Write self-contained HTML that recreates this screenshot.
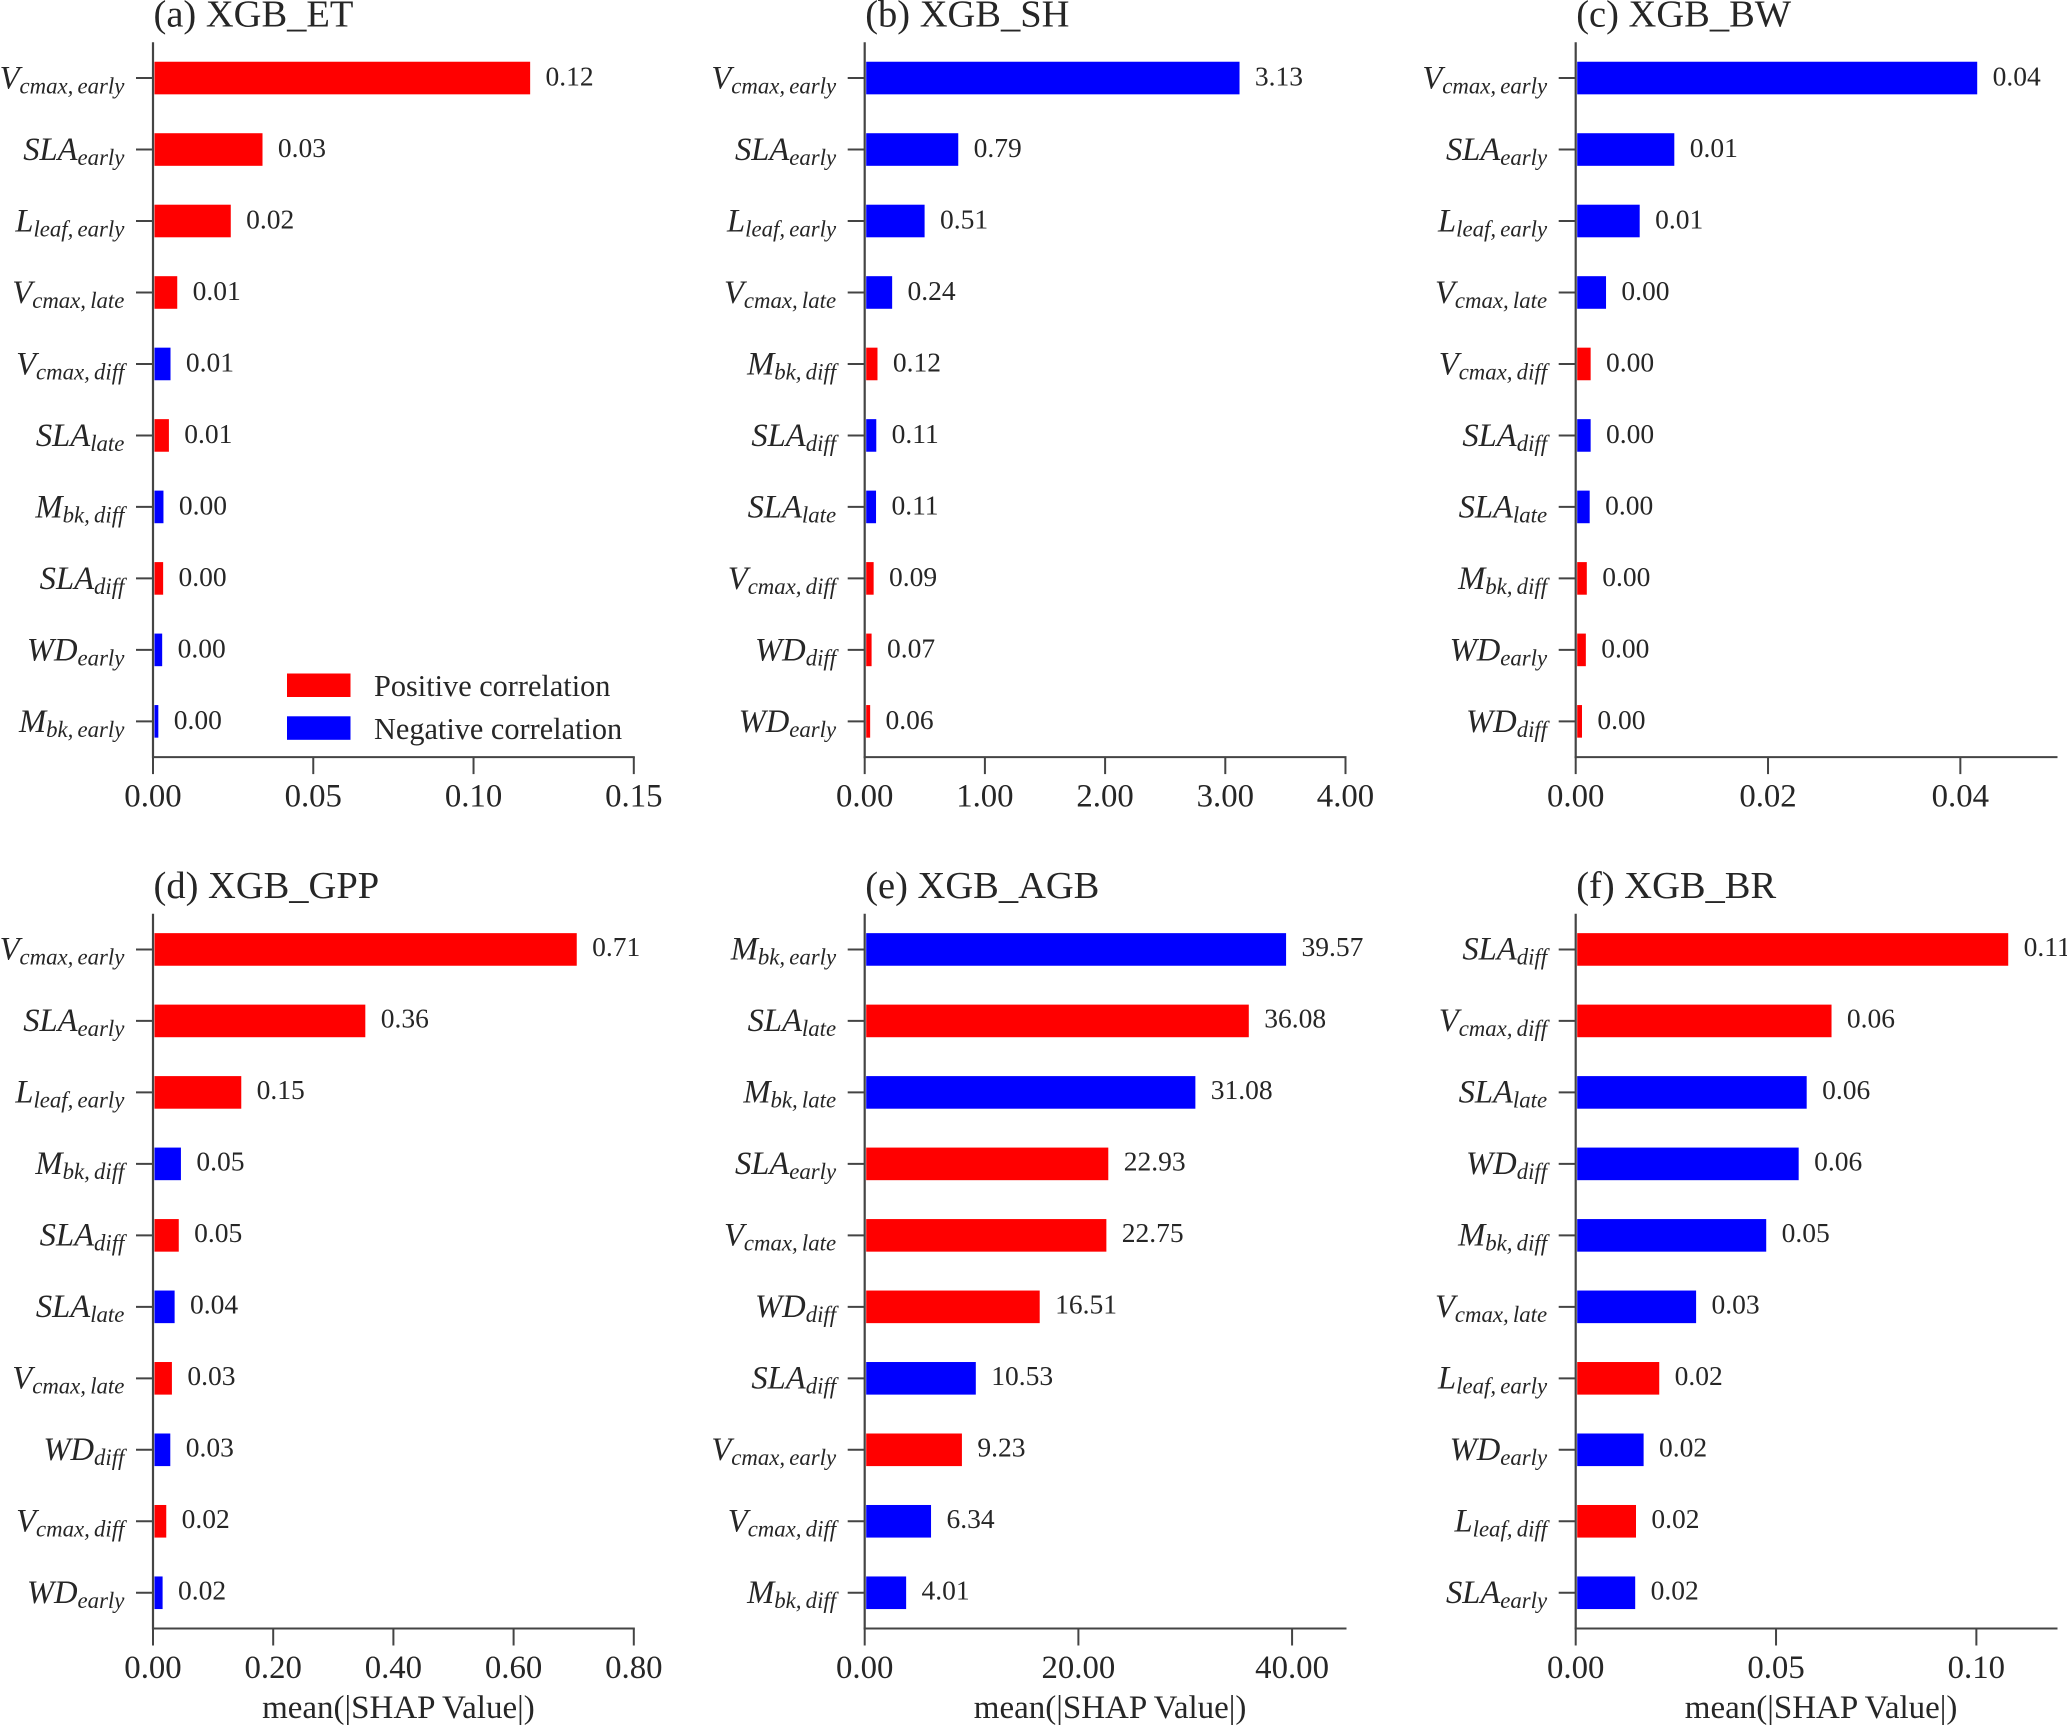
<!DOCTYPE html>
<html lang="en">
<head>
<meta charset="utf-8">
<title>Mean SHAP value bar charts</title>
<style>
html,body{margin:0;padding:0;background:#fff;width:2067px;height:1726px;overflow:hidden}
svg{display:block;font-family:"Liberation Serif",serif;fill:#262626}
</style>
</head>
<body>
<svg id="chart" xmlns="http://www.w3.org/2000/svg" width="2067" height="1726" viewBox="0 0 2067 1726"></svg>
<script>
// (a) XGB_ET
const etCategories = ["V|cmax, early","SLA|early","L|leaf, early","V|cmax, late","V|cmax, diff","SLA|late","M|bk, diff","SLA|diff","WD|early","M|bk, early"];
const etValues = [0.1181,0.0346,0.0247,0.0080,0.0059,0.0054,0.0037,0.0036,0.0033,0.0021];
const etSigns = ["pos","pos","pos","pos","neg","pos","neg","pos","neg","neg"];
const etTicks = [0,0.05,0.10,0.15];
const etMax = 0.15;
// (b) XGB_SH
const shCategories = ["V|cmax, early","SLA|early","L|leaf, early","V|cmax, late","M|bk, diff","SLA|diff","SLA|late","V|cmax, diff","WD|diff","WD|early"];
const shValues = [3.13,0.79,0.51,0.24,0.118,0.108,0.106,0.086,0.069,0.057];
const shSigns = ["neg","neg","neg","neg","pos","neg","neg","pos","pos","pos"];
const shTicks = [0,1,2,3,4];
const shMax = 4;
// (c) XGB_BW
const bwCategories = ["V|cmax, early","SLA|early","L|leaf, early","V|cmax, late","V|cmax, diff","SLA|diff","SLA|late","M|bk, diff","WD|early","WD|diff"];
const bwValues = [0.0419,0.0104,0.0068,0.0033,0.0017,0.0017,0.0016,0.0013,0.0012,0.0008];
const bwSigns = ["neg","neg","neg","neg","pos","neg","neg","pos","pos","pos"];
const bwTicks = [0,0.02,0.04];
const bwMax = 0.05;
// (d) XGB_GPP
const gppCategories = ["V|cmax, early","SLA|early","L|leaf, early","M|bk, diff","SLA|diff","SLA|late","V|cmax, late","WD|diff","V|cmax, diff","WD|early"];
const gppValues = [0.7074,0.3556,0.1492,0.0488,0.0452,0.0383,0.0338,0.0311,0.0244,0.0183];
const gppSigns = ["pos","pos","pos","neg","pos","neg","pos","neg","pos","neg"];
const gppTicks = [0,0.2,0.4,0.6,0.8];
const gppMax = 0.8;
// (e) XGB_AGB
const agbCategories = ["M|bk, early","SLA|late","M|bk, late","SLA|early","V|cmax, late","WD|diff","SLA|diff","V|cmax, early","V|cmax, diff","M|bk, diff"];
const agbValues = [39.57,36.08,31.08,22.93,22.75,16.51,10.53,9.23,6.34,4.01];
const agbSigns = ["neg","pos","neg","pos","pos","pos","neg","pos","neg","neg"];
const agbTicks = [0,20,40];
const agbMax = 45;
// (f) XGB_BR
const brCategories = ["SLA|diff","V|cmax, diff","SLA|late","WD|diff","M|bk, diff","V|cmax, late","L|leaf, early","WD|early","L|leaf, diff","SLA|early"];
const brValues = [0.1083,0.0642,0.0580,0.0560,0.0479,0.0304,0.0212,0.0173,0.0154,0.0152];
const brSigns = ["pos","pos","neg","neg","neg","neg","pos","neg","pos","neg"];
const brTicks = [0,0.05,0.10];
const brMax = 0.12;

const NS = "http://www.w3.org/2000/svg";
const root = document.getElementById("chart");
const COLORS = {pos:"#ff0000", neg:"#0000ff"};
const AXIS = "#444444";

function mk(tag, attrs, parent, text){
  const el = document.createElementNS(NS, tag);
  for (const k in attrs) el.setAttribute(k, attrs[k]);
  if (text !== undefined) el.textContent = text;
  parent.appendChild(el);
  return el;
}

function drawPanel(cfg){
  const W = 480.8, H = 714.8;
  const left = cfg.left, top = cfg.top, base = top + H;
  const xs = v => left + v / cfg.max * W;
  const ys = i => top + (i + 0.5) * H / cfg.values.length;

  const g = mk("g", {}, root);
  
  

  const title = mk("text", {x: left + 0.5, y: top - 15.8, "font-size": 38.5}, g, cfg.title);
  
  

  cfg.values.forEach((v, i) => {
    const y = ys(i);
    const bar = mk("rect", {x: left + 1.5, y: y - 16.3, width: Math.max(0, xs(v) - left - 2.9), height: 32.6, fill: COLORS[cfg.signs[i]]}, g);
    
    

    const val = mk("text", {x: xs(v) + 14, y: y + cfg.valueDrop, "font-size": 27.5}, g, v.toFixed(2));
    
    

    const tick = mk("line", {x1: left - 17, x2: left, y1: y, y2: y, stroke: AXIS, "stroke-width": 2}, g);
    
    

    const parts = cfg.cats[i].split("|");
    const lab = mk("text", {x: left - 28.6, y: y + cfg.labelDrop, "text-anchor": "end", "font-style": "italic", "font-size": 32.6}, g);
    
    
    mk("tspan", {}, lab, parts[0]);
    mk("tspan", {dy: 5, "font-size": 22.8, "word-spacing": -1.5}, lab, parts[1]);
  });

  cfg.ticks.forEach(t => {
    const tick = mk("line", {x1: xs(t), x2: xs(t), y1: base, y2: base + 17, stroke: AXIS, "stroke-width": 2}, g);
    
    

    const lab = mk("text", {x: xs(t), y: base + 49.5, "text-anchor": "middle", "font-size": 32.8}, g, t.toFixed(2));
    
    
  });

  const ySpine = mk("line", {x1: left, x2: left, y1: top, y2: base + 1, stroke: AXIS, "stroke-width": 2.2}, g);
  
  

  const xSpine = mk("line", {x1: left - 1, x2: left + W + 1, y1: base, y2: base, stroke: AXIS, "stroke-width": 2}, g);
  
  

  if (cfg.xlabel) {
    const xl = mk("text", {x: left + W / 2 + 5, y: base + 89.5, "text-anchor": "middle", "font-size": 33}, g, cfg.xlabel);
    
    
  }
}

const TOP1 = 42.3, TOP2 = 913.7;
const L1 = 153, L2 = 864.7, L3 = 1575.7;
const DROP1 = 7.5, DROP2 = 6.7;
const LAB1 = 10.7, LAB2 = 10;
drawPanel({key:"et", title:"(a) XGB_ET", left:L1, top:TOP1, cats:etCategories, values:etValues, signs:etSigns, ticks:etTicks, max:etMax, valueDrop:DROP1, labelDrop:LAB1});
drawPanel({key:"sh", title:"(b) XGB_SH", left:L2, top:TOP1, cats:shCategories, values:shValues, signs:shSigns, ticks:shTicks, max:shMax, valueDrop:DROP1, labelDrop:LAB1});
drawPanel({key:"bw", title:"(c) XGB_BW", left:L3, top:TOP1, cats:bwCategories, values:bwValues, signs:bwSigns, ticks:bwTicks, max:bwMax, valueDrop:DROP1, labelDrop:LAB1});
drawPanel({key:"gpp", title:"(d) XGB_GPP", left:L1, top:TOP2, cats:gppCategories, values:gppValues, signs:gppSigns, ticks:gppTicks, max:gppMax, valueDrop:DROP2, labelDrop:LAB2, xlabel:"mean(|SHAP Value|)"});
drawPanel({key:"agb", title:"(e) XGB_AGB", left:L2, top:TOP2, cats:agbCategories, values:agbValues, signs:agbSigns, ticks:agbTicks, max:agbMax, valueDrop:DROP2, labelDrop:LAB2, xlabel:"mean(|SHAP Value|)"});
drawPanel({key:"br", title:"(f) XGB_BR", left:L3, top:TOP2, cats:brCategories, values:brValues, signs:brSigns, ticks:brTicks, max:brMax, valueDrop:DROP2, labelDrop:LAB2, xlabel:"mean(|SHAP Value|)"});

// legend in panel (a)
const legend = mk("g", {}, root);



const posSwatch = mk("rect", {x: 287, y: 673.5, width: 63.5, height: 23.5, fill: COLORS.pos}, legend);



const posText = mk("text", {x: 374, y: 696, "font-size": 30.3}, legend, "Positive correlation");



const negSwatch = mk("rect", {x: 287, y: 716.3, width: 63.5, height: 23.5, fill: COLORS.neg}, legend);



const negText = mk("text", {x: 374, y: 739, "font-size": 30.3}, legend, "Negative correlation");


</script>
</body>
</html>
